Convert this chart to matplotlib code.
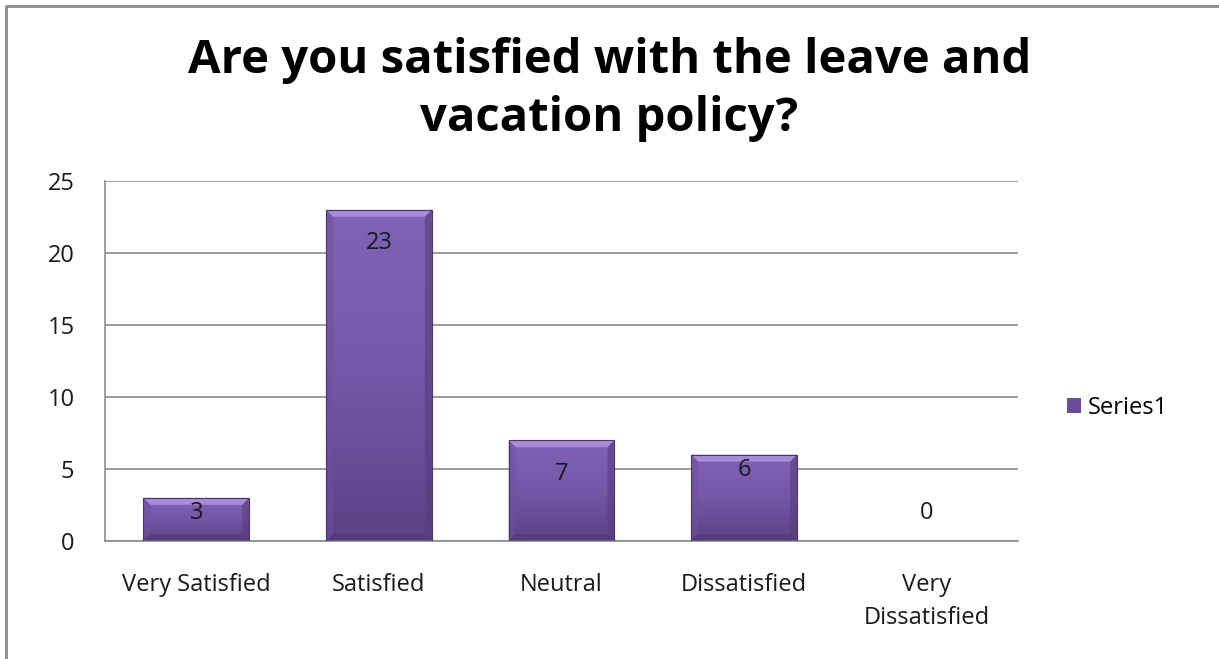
import numpy as np
import matplotlib
matplotlib.use('Agg')
import matplotlib.pyplot as plt
from matplotlib.patches import Polygon, Rectangle
from matplotlib.lines import Line2D
from matplotlib.colors import LinearSegmentedColormap

plt.rcParams['font.family'] = ['Open Sans', 'DejaVu Sans']

categories = ['Very Satisfied', 'Satisfied', 'Neutral', 'Dissatisfied', 'Very\nDissatisfied']
responses = [3, 23, 7, 6, 0]
yticks = [0, 5, 10, 15, 20, 25]

fig = plt.figure(figsize=(12.19, 6.59), dpi=100)
ax = fig.add_axes([105 / 1219, 1 - 541 / 659, 913 / 1219, 360 / 659])

# outer chart frame: only the left and top edges fall inside the image
fx, fy = 6 / 1219, 1 - 6 / 659
fig.lines.append(Line2D([fx, fx, 1.0], [0.0, fy, fy], transform=fig.transFigure,
                        color='#8c8c8c', linewidth=2))

x = np.arange(len(categories))
bars = ax.bar(x, responses, width=0.58, color='#7454a4', zorder=2,
              label='Series1')

ax.set_xlim(-0.5, len(categories) - 0.5)
ax.set_ylim(0, 25)
ax.set_yticks(yticks)
ax.yaxis.grid(True, color='#8c8c8c', linewidth=1.2, zorder=0)
ax.set_axisbelow(True)
for side in ['top', 'right']:
    ax.spines[side].set_visible(False)
ax.spines['left'].set_color('#8c8c8c')
ax.spines['bottom'].set_color('#8c8c8c')
ax.spines['left'].set_linewidth(1.2)
ax.spines['bottom'].set_linewidth(1.2)
ax.tick_params(axis='both', length=0, labelsize=17, colors='#1a1a1a')
ax.tick_params(axis='y', pad=22)
ax.tick_params(axis='x', pad=23)
ax.set_xticks(x)
ax.set_xticklabels(categories, linespacing=1.5, va='top')

# gradient fill + bevel for each bar
grad = LinearSegmentedColormap.from_list('bar', ['#5c4286', '#7656a8', '#8262b4'])
fig.canvas.draw()
to_data = ax.transData.inverted()
for b, v in zip(bars, responses):
    if v <= 0:
        continue
    x0, y0, w, h = b.get_x(), b.get_y(), b.get_width(), b.get_height()
    b.set_facecolor('none')
    img = ax.imshow(np.linspace(0, 1, 100).reshape(-1, 1), cmap=grad,
                    extent=[x0, x0 + w, y0, y0 + h], origin='lower',
                    aspect='auto', zorder=2)
    img.set_clip_path(b)
    # bevel width of ~7 px in data units
    p0 = to_data.transform((0, 0))
    p1 = to_data.transform((7, 7))
    dx, dy = p1[0] - p0[0], p1[1] - p0[1]
    top = y0 + h
    ax.add_patch(Polygon([(x0, top), (x0 + w, top), (x0 + w - dx, top - dy),
                          (x0 + dx, top - dy)], closed=True,
                         facecolor='#a78dd8', edgecolor='none', zorder=3))
    ax.add_patch(Polygon([(x0, top), (x0 + dx, top - dy), (x0 + dx, y0 + dy),
                          (x0, y0)], closed=True,
                         facecolor='#6e50a0', alpha=0.6, edgecolor='none', zorder=3))
    ax.add_patch(Polygon([(x0 + w, top), (x0 + w - dx, top - dy),
                          (x0 + w - dx, y0 + dy), (x0 + w, y0)], closed=True,
                         facecolor='#563d7e', alpha=0.6, edgecolor='none', zorder=3))
    ax.add_patch(Polygon([(x0, y0), (x0 + dx, y0 + dy), (x0 + w - dx, y0 + dy),
                          (x0 + w, y0)], closed=True,
                         facecolor='#4e3773', alpha=0.5, edgecolor='none', zorder=3))
    ax.add_patch(Rectangle((x0, y0), w, h, fill=False, edgecolor='#4a3570',
                           linewidth=0.8, zorder=4))

# value labels
for xi, v in zip(x, responses):
    if v == 0:
        off = 20
    elif v > 6:
        off = -24
    else:
        off = -11
    ax.annotate(str(v), (xi, v), xytext=(0, off), textcoords='offset points',
                ha='center', va='center', fontsize=17, color='#1a1a1a', zorder=5)

fig.text(0.5, 1 - 60 / 659, 'Are you satisfied with the leave and',
         ha='center', va='center', fontsize=34, fontweight='bold')
fig.text(0.5, 1 - 118 / 659, 'vacation policy?',
         ha='center', va='center', fontsize=34, fontweight='bold')

leg = ax.legend(loc='center left', bbox_to_anchor=(1.03, 0.37), frameon=False,
                fontsize=17, handlelength=0.6, handleheight=0.6, handletextpad=0.3)
for h in leg.legend_handles:
    h.set_facecolor('#6a4c9c')

fig.savefig('out.png', dpi=100)
